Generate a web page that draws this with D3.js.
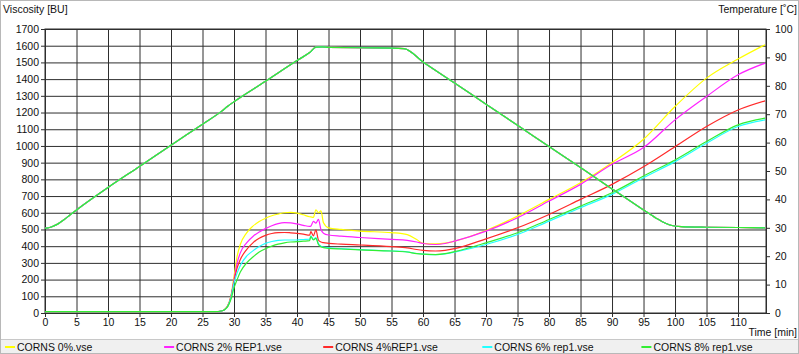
<!DOCTYPE html>
<html>
<head>
<meta charset="utf-8">
<script src="https://cdn.jsdelivr.net/npm/d3@7"></script>
<style>
body { margin: 0; background: #fff; }
svg text { font-family: Arial, "Liberation Sans", sans-serif; font-size: 10.5px; fill: #111; }
</style>
</head>
<body>
<script>
// time [min] for the viscosity curves
var time = [0, 27, 28, 28.5, 29, 29.5, 30, 30.5, 31, 32, 33, 34, 35, 36, 37, 38, 39, 40, 41, 42,
            42.2, 42.6, 43.0, 43.4, 43.8, 44.2, 45, 47, 50, 55, 57.5, 59, 60, 62, 63.5, 65,
            70, 75, 80, 85, 90, 95, 100, 105, 110, 114.3]

// viscosity [BU]
var corns0 = [8, 8, 12, 20, 45, 100, 220, 340, 410, 480, 520, 548, 567, 582, 592, 600, 602, 598, 588, 576,
              575, 573, 618, 600, 612, 540, 510, 500, 490, 481, 469, 440, 417, 414, 418, 430,
              494, 580, 680, 780, 900, 1040, 1236, 1406, 1520, 1606]
var corns2 = [8, 8, 12, 20, 42, 95, 200, 300, 360, 420, 458, 485, 505, 522, 535, 541, 540, 533, 525, 518,
              520, 548, 538, 560, 500, 478, 467, 460, 452, 441, 435, 425, 416, 410, 416, 430,
              490, 570, 670, 770, 890, 990, 1156, 1296, 1426, 1496]
var corns4 = [8, 8, 12, 20, 42, 95, 190, 270, 320, 380, 420, 448, 465, 476, 481, 482, 480, 477, 472, 466,
              487, 462, 497, 437, 425, 421, 417, 412, 407, 397, 390, 380, 375, 371, 375, 385,
              444, 510, 590, 680, 770, 875, 995, 1116, 1215, 1270]
var corns6 = [8, 8, 12, 20, 40, 90, 180, 240, 285, 340, 372, 398, 417, 428, 435, 437, 437, 437, 440, 442,
              462, 440, 452, 415, 400, 394, 390, 385, 379, 371, 366, 356, 352, 349, 353, 364,
              410, 470, 550, 630, 710, 810, 906, 1016, 1116, 1156]
var corns8 = [8, 8, 12, 20, 38, 80, 150, 200, 245, 300, 335, 365, 385, 400, 412, 420, 425, 427, 430, 433,
              458, 438, 447, 410, 397, 391, 387, 383, 378, 371, 365, 355, 352, 350, 355, 367,
              420, 480, 560, 640, 720, 820, 916, 1026, 1126, 1166]

// temperature profile [°C]
var tempTime = [0, 1, 2, 3, 4, 5, 10, 15, 20, 25, 28, 29, 30, 35, 40, 42, 43, 44, 45,
                50, 55, 57, 60, 65, 70, 75, 80, 85, 90, 95, 97, 98.5, 99.5, 101, 105, 110, 114.3]
var tempVals = [29.8, 30.3, 31.3, 32.8, 34.6, 36.3, 44.2, 51.6, 59.1, 66.5, 71.0, 72.8, 74.4, 81.6, 88.9, 91.7, 93.6, 93.7, 93.5,
                93.4, 93.3, 93.1, 88.4, 81.0, 73.5, 66.1, 58.6, 51.2, 43.7, 36.3, 33.4, 31.6, 30.8, 30.4, 30.2, 30.1, 30.0]

var nomes = ["CORNS 0%.vse", "CORNS 2% REP1.vse", "CORNS 4%REP1.vse", "CORNS 6% rep1.vse", "CORNS 8% rep1.vse"]
var cores = ["#ffff00", "#ff22ff", "#ff2a2a", "#22ffff", "#33ee33"]
var series = [corns0, corns2, corns4, corns6, corns8]

var xTicks = [0, 5, 10, 15, 20, 25, 30, 35, 40, 45, 50, 55, 60, 65, 70, 75, 80, 85, 90, 95, 100, 105, 110]
var yTicks = [0, 100, 200, 300, 400, 500, 600, 700, 800, 900, 1000, 1100, 1200, 1300, 1400, 1500, 1600, 1700]
var tTicks = [0, 10, 20, 30, 40, 50, 60, 70, 80, 90, 100]

var W = 799, H = 354
var esq = 45, dir = 766, topo = 29, base = 313

svg = d3.select("body").append("svg").attr("width", W).attr("height", H)

svg.append("rect").attr("x", 0.5).attr("y", 0.5).attr("width", W - 1).attr("height", H - 1)
  .attr("fill", "#fff").attr("stroke", "#b8b8b8")

var escalaX = d3.scaleLinear().domain([0, 114.44]).range([esq, dir])
var escalaY = d3.scaleLinear().domain([0, 1700]).range([base, topo])
var escalaT = d3.scaleLinear().domain([0, 100]).range([base, topo])

// left axis + horizontal grid
var gy = svg.append("g").attr("transform", "translate(" + esq + ",0)")
  .call(d3.axisLeft(escalaY).tickValues(yTicks).tickFormat(d3.format("d"))
    .tickSize(4).tickSizeOuter(0).tickPadding(2))
gy.selectAll(".tick line").clone().attr("x2", dir - esq)
gy.selectAll("line, path").attr("stroke", "#2e2e2e")
gy.attr("font-family", null).attr("font-size", null)

// bottom axis + vertical grid
var gx = svg.append("g").attr("transform", "translate(0," + base + ")")
  .call(d3.axisBottom(escalaX).tickValues(xTicks).tickFormat(d3.format("d"))
    .tickSize(4).tickSizeOuter(0).tickPadding(2))
gx.selectAll(".tick line").clone().attr("y2", topo - base)
gx.selectAll("line, path").attr("stroke", "#2e2e2e")
gx.attr("font-family", null).attr("font-size", null)

// right axis (temperature)
var gt = svg.append("g").attr("transform", "translate(" + dir + ",0)")
  .call(d3.axisRight(escalaT).tickValues(tTicks).tickFormat(d3.format("d"))
    .tickSize(4).tickSizeOuter(0).tickPadding(5))
gt.selectAll("line, path").attr("stroke", "#2e2e2e")
gt.attr("font-family", null).attr("font-size", null)

svg.append("rect").attr("x", esq).attr("y", topo).attr("width", dir - esq).attr("height", base - topo)
  .attr("fill", "none").attr("stroke", "#2e2e2e")

var linha = d3.line()
  .x(function(d, i) { return escalaX(time[i]) })
  .y(function(d) { return escalaY(d) })
  .curve(d3.curveMonotoneX)

var linhaT = d3.line()
  .x(function(d, i) { return escalaX(tempTime[i]) })
  .y(function(d) { return escalaT(d) })
  .curve(d3.curveMonotoneX)

series.forEach(function(s, i) {
  svg.append("path").attr("d", linha(s)).attr("fill", "none")
    .attr("stroke", cores[i]).attr("stroke-width", 1.2)
})
series.forEach(function(s, i) {
  svg.append("path").attr("d", linhaT(tempVals)).attr("fill", "none")
    .attr("stroke", cores[i]).attr("stroke-width", 1.2)
})

// titles
svg.append("text").attr("x", 3).attr("y", 13).text("Viscosity [BU]")
svg.append("text").attr("x", 797).attr("y", 13).attr("text-anchor", "end").text("Temperature [˚C]")
svg.append("text").attr("x", 797).attr("y", 336).attr("text-anchor", "end").text("Time [min]")

// legend
svg.append("rect").attr("x", 1).attr("y", 339).attr("width", W - 2).attr("height", H - 340)
  .attr("fill", "#f0f0f0")
svg.append("line").attr("x1", 1).attr("x2", W - 1).attr("y1", 339.5).attr("y2", 339.5).attr("stroke", "#c8c8c8")

var leg = svg.append("g").selectAll("g").data(nomes).join("g")
  .attr("transform", function(d, i) { return "translate(" + (17 + i * 159.1) + ",0)" })
leg.append("line").attr("x1", -12).attr("x2", -2).attr("y1", 347).attr("y2", 347)
  .attr("stroke", function(d, i) { return cores[i] }).attr("stroke-width", 2)
leg.append("text").attr("x", 0).attr("y", 350.5).text(function(d) { return d })
</script>
</body>
</html>
